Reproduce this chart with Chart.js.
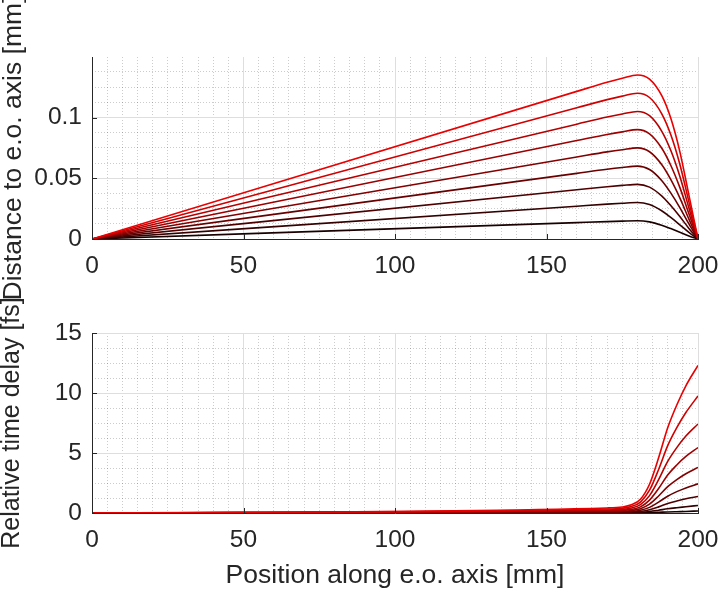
<!DOCTYPE html>
<html>
<head>
<meta charset="utf-8">
<script src="https://cdn.jsdelivr.net/npm/chart.js@4.4.0/dist/chart.umd.min.js"></script>
<style>
  html, body { margin: 0; padding: 0; background: #fff; }
  #wrap { position: relative; width: 720px; height: 592px; }
  #wrap canvas { position: absolute; left: 0; top: 0; }
</style>
</head>
<body>
<div id="wrap">
  <canvas id="chartDistance" width="720" height="592"></canvas>
  <canvas id="chartDelay" width="720" height="592"></canvas>
</div>
<script>
// x positions along the e.o. axis [mm]
const distX = [0, 160, 170, 175, 180, 184, 188, 191, 194, 197, 200];
const delayX = [0, 170, 175, 178, 181, 184, 187, 190, 193, 196, 200];

// Distance to e.o. axis [mm], one array per ray (dark -> red)
const dist1 = [0, 0.0135, 0.01434, 0.0147, 0.0150, 0.0141, 0.0114, 0.00855, 0.00555, 0.00255, 0];
const dist2 = [0, 0.0270, 0.02868, 0.0294, 0.0300, 0.02833, 0.02323, 0.01773, 0.01171, 0.00546, 0];
const dist3 = [0, 0.0405, 0.04302, 0.0441, 0.0450, 0.0427, 0.0355, 0.02753, 0.01849, 0.00874, 0];
const dist4 = [0, 0.0540, 0.05736, 0.0588, 0.0600, 0.05719, 0.04819, 0.03796, 0.02587, 0.01238, 0];
const dist5 = [0, 0.0675, 0.0717, 0.0735, 0.0750, 0.07181, 0.06131, 0.04901, 0.03386, 0.01639, 0];
const dist6 = [0, 0.0810, 0.08604, 0.0882, 0.0900, 0.08657, 0.07487, 0.0607, 0.04247, 0.02075, 0];
const dist7 = [0, 0.0945, 0.10038, 0.1029, 0.1050, 0.10146, 0.08886, 0.07301, 0.05169, 0.02549, 0];
const dist8 = [0, 0.1080, 0.11472, 0.1176, 0.1200, 0.11647, 0.10327, 0.08593, 0.06151, 0.03059, 0];
const dist9 = [0, 0.1215, 0.12906, 0.1323, 0.1350, 0.13163, 0.11813, 0.0995, 0.07196, 0.03605, 0];

// Relative time delay [fs]
const delay1 = [0, 0.005, 0.006, 0.008, 0.014, 0.03, 0.057, 0.088, 0.11, 0.13, 0.17];
const delay2 = [0, 0.021, 0.025, 0.034, 0.057, 0.12, 0.23, 0.35, 0.44, 0.52, 0.63];
const delay3 = [0, 0.047, 0.056, 0.075, 0.13, 0.27, 0.51, 0.79, 1.00, 1.18, 1.37];
const delay4 = [0, 0.083, 0.099, 0.13, 0.23, 0.47, 0.91, 1.40, 1.78, 2.09, 2.43];
const delay5 = [0, 0.13, 0.15, 0.21, 0.36, 0.74, 1.42, 2.19, 2.78, 3.27, 3.80];
const delay6 = [0, 0.19, 0.22, 0.30, 0.51, 1.07, 2.04, 3.16, 4.00, 4.71, 5.45];
const delay7 = [0, 0.25, 0.30, 0.41, 0.70, 1.45, 2.78, 4.30, 5.45, 6.41, 7.42];
const delay8 = [0, 0.33, 0.40, 0.54, 0.91, 1.90, 3.63, 5.61, 7.11, 8.37, 9.75];
const delay9 = [0, 0.42, 0.50, 0.68, 1.15, 2.40, 4.60, 7.10, 9.00, 10.6, 12.3];

const distSeries = [dist1, dist2, dist3, dist4, dist5, dist6, dist7, dist8, dist9];
const delaySeries = [delay1, delay2, delay3, delay4, delay5, delay6, delay7, delay8, delay9];

const xTicks = [0, 50, 100, 150, 200];

const lineColors = ['#1a0000', '#340000', '#4e0000', '#680000', '#820000', '#9c0000', '#b60000', '#d00000', '#ea0000'];
const axisColor = '#262626';
const gridColor = '#dedede';
const minorColor = 'rgba(0,0,0,0.2)';
const fontFamily = '"Liberation Sans", Arial, Helvetica, sans-serif';

Chart.defaults.font.family = fontFamily;
Chart.defaults.color = axisColor;
Chart.defaults.animation = false;

// MATLAB style ticks pointing into the plot
const inwardTicks = {
  id: 'inwardTicks',
  afterDraw(chart) {
    const {ctx, chartArea} = chart;
    const sx = chart.scales.x, sy = chart.scales.y;
    ctx.save();
    ctx.strokeStyle = axisColor;
    ctx.lineWidth = 1;
    ctx.beginPath();
    sx.ticks.forEach(t => {
      const px = Math.round(sx.getPixelForValue(t.value)) + 0.5;
      ctx.moveTo(px, chartArea.bottom);
      ctx.lineTo(px, chartArea.bottom - 5);
    });
    sy.ticks.forEach(t => {
      const py = Math.round(sy.getPixelForValue(t.value)) + 0.5;
      ctx.moveTo(chartArea.left, py);
      ctx.lineTo(chartArea.left + 5, py);
    });
    ctx.stroke();
    ctx.restore();
  }
};

const makeDatasets = (xs, series) => series.map((ys, i) => ({
  data: xs.map((x, j) => ({x: x, y: ys[j]})),
  borderColor: lineColors[i],
  borderWidth: 1.6,
  pointRadius: 0,
  fill: false,
  cubicInterpolationMode: 'monotone',
  order: series.length - i
}));

const noOverhang = s => { s.paddingLeft = 0; s.paddingRight = 0; };

const makeConfig = (opt) => ({
  type: 'line',
  data: { datasets: makeDatasets(opt.xs, opt.series) },
  options: {
    responsive: false,
    animation: false,
    layout: { padding: { top: opt.top, right: 22, left: 0, bottom: 0 } },
    plugins: { legend: { display: false }, tooltip: { enabled: false } },
    scales: {
      xMinor: {
        type: 'linear', position: 'bottom', min: 0, max: 200,
        ticks: { display: false, stepSize: 5 },
        grid: { color: minorColor, drawTicks: false, lineWidth: 1 },
        border: { display: false, dash: [1, 2] },
        afterFit: s => { s.height = 0; noOverhang(s); }
      },
      yMinor: {
        type: 'linear', position: 'left', min: 0, max: opt.yMax,
        ticks: { display: false, stepSize: opt.yMinorStep, includeBounds: false },
        grid: { color: minorColor, drawTicks: false, lineWidth: 1 },
        border: { display: false, dash: [1, 2] },
        afterFit: s => { s.width = 0; }
      },
      x: {
        type: 'linear', position: 'bottom', min: 0, max: 200,
        afterBuildTicks: s => { s.ticks = xTicks.map(v => ({value: v})); },
        ticks: { font: { size: 24.5 }, padding: opt.xPad, color: axisColor, maxRotation: 0 },
        grid: { color: gridColor, drawTicks: false, lineWidth: 1 },
        border: { color: axisColor, width: 1 },
        title: {
          display: !!opt.xTitle, text: opt.xTitle || '',
          font: { size: 26.5, lineHeight: 1.2 }, color: axisColor, padding: { top: 0, bottom: 0 }
        },
        afterFit: s => { s.height = opt.xHeight; noOverhang(s); }
      },
      y: {
        type: 'linear', position: 'left', min: 0, max: opt.yMax,
        ticks: {
          font: { size: 24.5 }, padding: 10, color: axisColor, stepSize: opt.yStep, includeBounds: false,
          callback: v => String(+v.toFixed(4))
        },
        grid: { color: gridColor, drawTicks: false, lineWidth: 1 },
        border: { color: axisColor, width: 1 },
        title: {
          display: true, text: opt.yTitle,
          font: { size: opt.yTitleSize, lineHeight: 1.0 }, color: axisColor, padding: { top: 0, bottom: 0 }
        },
        afterFit: s => { s.width = 92; s.paddingTop = 0; s.paddingBottom = 0; }
      }
    }
  },
  plugins: [inwardTicks]
});

const chartDistance = new Chart(document.getElementById('chartDistance'), makeConfig({
  xs: distX, series: distSeries,
  yMax: 0.1498, yStep: 0.05, yMinorStep: 0.0125,
  top: 57, xHeight: 592 - 239, xPad: 13,
  yTitle: 'Distance to e.o. axis [mm]', yTitleSize: 26.5
}));

const chartDelay = new Chart(document.getElementById('chartDelay'), makeConfig({
  xs: delayX, series: delaySeries,
  yMax: 15, yStep: 5, yMinorStep: 1.25,
  top: 333, xHeight: 592 - 513, xPad: 13,
  yTitle: 'Relative time delay [fs]', yTitleSize: 25,
  xTitle: 'Position along e.o. axis [mm]'
}));
</script>
</body>
</html>
